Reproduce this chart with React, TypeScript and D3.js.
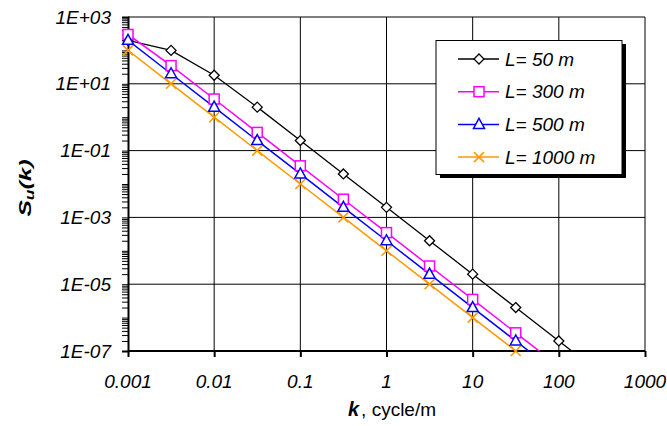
import { useEffect, useRef } from 'react';
import * as d3 from 'd3';

// wavenumbers (cycle/m), half-decade steps
const kValues = [0.001, 0.00316, 0.01, 0.0316, 0.1, 0.316, 1, 3.16, 10, 31.6, 100, 316];

const series = ['L= 50 m', 'L= 300 m', 'L= 500 m', 'L= 1000 m'];
const L50 = [200, 100, 18, 2, 0.2, 0.02, 0.002, 2e-4, 2e-5, 2e-6, 2e-7, 2e-8];
const L300 = [300, 35, 3.5, 0.35, 0.035, 0.0035, 3.5e-4, 3.5e-5, 3.5e-6, 3.5e-7, 3.5e-8, 3.5e-9];
const L500 = [200, 20, 2, 0.2, 0.02, 0.002, 2e-4, 2e-5, 2e-6, 2e-7, 2e-8, 2e-9];
const L1000 = [100, 10, 1, 0.1, 0.01, 1e-3, 1e-4, 1e-5, 1e-6, 1e-7, 1e-8, 1e-9];

const xTicks = [0.001, 0.01, 0.1, 1, 10, 100, 1000];
const xTickLabels = ['0.001', '0.01', '0.1', '1', '10', '100', '1000'];
const yTicks = [1e3, 1e1, 1e-1, 1e-3, 1e-5, 1e-7];
const yTickLabels = ['1E+03', '1E+01', '1E-01', '1E-03', '1E-05', '1E-07'];

const colors = ['#000000', '#ff00ff', '#0000ff', '#ff9900'];
const markers = ['diamond', 'square', 'triangle', 'cross'];

export default function App() {
  const svgRef = useRef<SVGSVGElement | null>(null);

  useEffect(() => {
    if (!svgRef.current) return;
    const svg = d3.select(svgRef.current);
    svg.selectAll('*').remove();

    const font = 'Liberation Sans, Arial, sans-serif';
    const left = 128, right = 645, top = 17, bottom = 351;

    const x = d3.scaleLog().domain([0.001, 1000]).range([left, right]);
    const y = d3.scaleLog().domain([1e-7, 1e3]).range([bottom, top]);

    svg.append('defs').append('clipPath').attr('id', 'plot-clip')
      .append('rect')
      .attr('x', left).attr('y', top)
      .attr('width', right - left).attr('height', bottom - top);

    // gridlines
    svg.append('g').selectAll('line')
      .data(yTicks.slice(0, -1))
      .join('line')
      .attr('x1', left).attr('x2', right)
      .attr('y1', d => y(d)).attr('y2', d => y(d))
      .attr('stroke', '#000').attr('stroke-width', 1);

    svg.append('g').selectAll('line')
      .data(xTicks.slice(1))
      .join('line')
      .attr('x1', d => x(d)).attr('x2', d => x(d))
      .attr('y1', top).attr('y2', bottom)
      .attr('stroke', '#000').attr('stroke-width', 1);

    // y axis with log minor ticks
    const yAxis = d3.axisLeft(y)
      .tickValues(d3.range(-7, 3).flatMap(e => d3.range(1, 10).map(m => m * Math.pow(10, e))).concat([1e3]))
      .tickSize(6)
      .tickFormat(() => '');
    svg.append('g')
      .attr('transform', `translate(${left},0)`)
      .call(yAxis)
      .call(g => g.select('.domain').attr('stroke-width', 2))
      .call(g => g.selectAll('.tick line').attr('stroke-width', 1));

    svg.append('g').selectAll('text')
      .data(yTicks)
      .join('text')
      .attr('x', 111)
      .attr('y', d => y(d))
      .attr('dy', '0.35em')
      .attr('text-anchor', 'end')
      .attr('font-family', font)
      .attr('font-style', 'italic')
      .attr('font-size', 19)
      .text((d, i) => yTickLabels[i]);

    // x axis
    const xAxis = d3.axisBottom(x)
      .tickValues(xTicks)
      .tickSize(6)
      .tickFormat(() => '');
    svg.append('g')
      .attr('transform', `translate(0,${bottom})`)
      .call(xAxis)
      .call(g => g.select('.domain').attr('stroke-width', 2).attr('d', `M${left},0H${right}`))
      .call(g => g.selectAll('.tick line').attr('stroke-width', 2));

    svg.append('g').selectAll('text')
      .data(xTicks)
      .join('text')
      .attr('x', d => x(d))
      .attr('y', 388)
      .attr('text-anchor', 'middle')
      .attr('font-family', font)
      .attr('font-style', 'italic')
      .attr('font-size', 19)
      .text((d, i) => xTickLabels[i]);

    // series
    const allValues = [L50, L300, L500, L1000];
    const line = d3.line<number>()
      .x((d, i) => x(kValues[i]))
      .y(d => y(d));

    const marker = (g: d3.Selection<SVGGElement, unknown, null, undefined>, kind: string, color: string) => {
      if (kind === 'diamond') {
        g.append('path').attr('d', 'M0,-5L5,0L0,5L-5,0Z')
          .attr('fill', '#fff').attr('stroke', color).attr('stroke-width', 1.3);
      } else if (kind === 'square') {
        g.append('rect').attr('x', -5).attr('y', -5).attr('width', 10).attr('height', 10)
          .attr('fill', '#fff').attr('stroke', color).attr('stroke-width', 1.5);
      } else if (kind === 'triangle') {
        g.append('path').attr('d', 'M0,-6L5.5,4L-5.5,4Z')
          .attr('fill', '#fff').attr('stroke', color).attr('stroke-width', 1.5);
      } else {
        g.append('path').attr('d', 'M-5,-5L5,5M-5,5L5,-5')
          .attr('fill', 'none').attr('stroke', color).attr('stroke-width', 1.5);
      }
    };

    const plot = svg.append('g').attr('clip-path', 'url(#plot-clip)');
    allValues.forEach((vals, si) => {
      plot.append('path')
        .datum(vals)
        .attr('d', line)
        .attr('fill', 'none')
        .attr('stroke', colors[si])
        .attr('stroke-width', si === 0 ? 1.3 : 1.5);
    });
    allValues.forEach((vals, si) => {
      vals.forEach((v, i) => {
        if (v < 1e-7 * 0.999) return;
        const g = svg.append('g').attr('transform', `translate(${x(kValues[i])},${y(v)})`);
        marker(g, markers[si], colors[si]);
      });
    });

    // legend
    const lg = svg.append('g');
    lg.append('rect').attr('x', 440).attr('y', 44).attr('width', 186).attr('height', 134).attr('fill', '#000');
    lg.append('rect').attr('x', 436).attr('y', 40.5).attr('width', 186).attr('height', 134)
      .attr('fill', '#fff').attr('stroke', '#000').attr('stroke-width', 1);
    series.forEach((name, si) => {
      const cy = 59 + si * 32.7;
      lg.append('line').attr('x1', 458).attr('x2', 499).attr('y1', cy).attr('y2', cy)
        .attr('stroke', colors[si]).attr('stroke-width', 1.5);
      const mg = lg.append('g').attr('transform', `translate(479,${cy})`);
      marker(mg, markers[si], colors[si]);
      lg.append('text')
        .attr('x', 505).attr('y', cy).attr('dy', '0.35em')
        .attr('font-family', font).attr('font-style', 'italic').attr('font-size', 19)
        .text(name);
    });

    // axis titles (glyphs look stretched along the text in the original)
    const yt = svg.append('text')
      .attr('transform', 'translate(31,188) rotate(-90) scale(1.45,1)')
      .attr('text-anchor', 'middle')
      .attr('font-family', font)
      .attr('font-size', 17)
      .attr('font-weight', 'bold')
      .attr('font-style', 'italic');
    yt.append('tspan').text('S');
    yt.append('tspan').attr('font-size', 12).attr('dy', 3).text('u');
    yt.append('tspan').attr('dy', -3).text('(k)');

    const xt = svg.append('text')
      .attr('x', 392).attr('y', 416)
      .attr('text-anchor', 'middle')
      .attr('font-family', font)
      .attr('font-size', 19);
    xt.append('tspan').attr('font-weight', 'bold').attr('font-style', 'italic').attr('font-size', 20).text('k');
    xt.append('tspan').attr('dx', 2).text(', cycle/m');
  }, []);

  return (
    <svg ref={svgRef} width={667} height={426}
      style={{ position: 'absolute', left: 0, top: 0, background: '#fff' }} />
  );
}
